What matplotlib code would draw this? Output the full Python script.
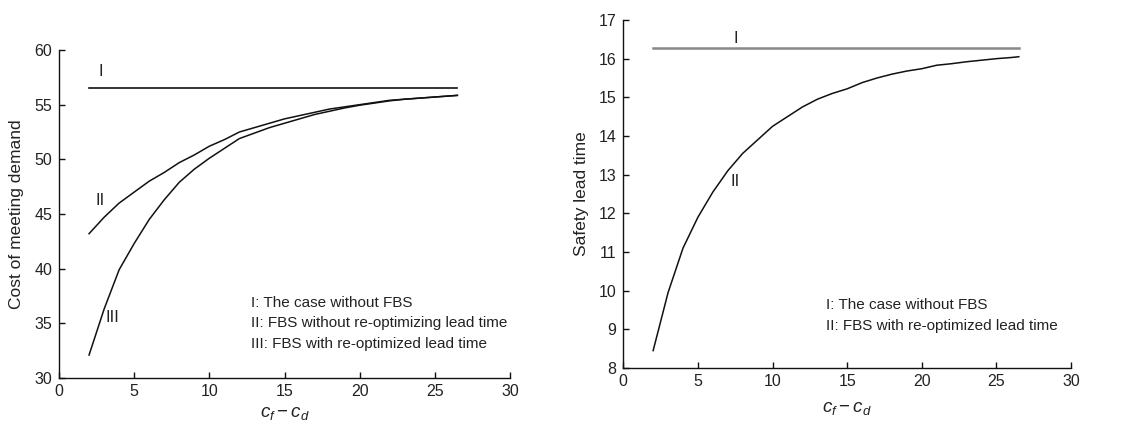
import matplotlib
matplotlib.use("Agg")
import matplotlib.pyplot as plt

plt.rcParams['font.family'] = ['Liberation Sans', 'DejaVu Sans']
plt.rcParams['mathtext.fontset'] = 'custom'
plt.rcParams['mathtext.it'] = 'Liberation Sans:italic'
plt.rcParams['mathtext.rm'] = 'Liberation Sans'

# Left chart data
x = [2, 3, 4, 5, 6, 7, 8, 9, 10, 11, 12, 13, 14, 15, 16, 17, 18, 19, 20,
     21, 22, 23, 24, 25, 26, 26.5]
cost_I = 56.5
cost_II = [43.2, 44.7, 46.0, 47.0, 48.0, 48.8, 49.7, 50.4, 51.2, 51.8, 52.5,
           52.9, 53.3, 53.7, 54.0, 54.3, 54.6, 54.8, 55.0, 55.2, 55.4, 55.5,
           55.6, 55.7, 55.8, 55.85]
cost_III = [32.1, 36.3, 39.9, 42.3, 44.5, 46.3, 47.9, 49.1, 50.1, 51.0, 51.9,
            52.4, 52.9, 53.3, 53.7, 54.1, 54.4, 54.7, 54.95, 55.15, 55.35,
            55.5, 55.6, 55.7, 55.8, 55.85]

# Right chart data
slt_I = 16.27
slt_II = [8.45, 9.95, 11.1, 11.9, 12.55, 13.1, 13.55, 13.9, 14.25, 14.5,
          14.75, 14.95, 15.1, 15.22, 15.38, 15.5, 15.6, 15.68, 15.74, 15.83,
          15.87, 15.92, 15.96, 16.0, 16.03, 16.05]

left_legend = ["I: The case without FBS",
               "II: FBS without re-optimizing lead time",
               "III: FBS with re-optimized lead time"]
right_legend = ["I: The case without FBS",
                "II: FBS with re-optimized lead time"]

W, H = 1137, 421
fig = plt.figure(figsize=(W / 100, H / 100), dpi=100)
ax1 = fig.add_axes([59 / W, 1 - 378 / H, (510 - 59) / W, (378 - 50) / H])
ax2 = fig.add_axes([623.3 / W, 1 - 368 / H, (1071 - 623.3) / W, (368 - 20) / H])

tc = '#222222'
for ax in (ax1, ax2):
    for s in ('top', 'right'):
        ax.spines[s].set_visible(False)
    for s in ('left', 'bottom'):
        ax.spines[s].set_linewidth(1.0)
        ax.spines[s].set_color('#111111')
    ax.tick_params(direction='in', length=4.5, width=1, labelsize=11.5,
                   colors='#111111', labelcolor=tc)
    ax.tick_params(axis='y', pad=5)
    ax.tick_params(axis='x', pad=4)
    ax.set_xlim(0, 30)
    ax.set_xticks([0, 5, 10, 15, 20, 25, 30])
    ax.set_xlabel(r'$c_f - c_d$', fontsize=13.5, color=tc)

# Left
ax1.set_ylim(30, 60)
ax1.set_yticks(range(30, 61, 5))
ax1.plot([x[0], x[-1]], [cost_I, cost_I], color='#111111', lw=1.2)
ax1.plot(x, cost_II, color='#111111', lw=1.1)
ax1.plot(x, cost_III, color='#111111', lw=1.1)
ax1.set_ylabel('Cost of meeting demand', fontsize=12.5, color=tc)
ax1.yaxis.set_label_coords(-0.077, 0.5)
ax1.xaxis.set_label_coords(0.5, -0.082)
ax1.text(2.8, 58.0, 'I', fontsize=12, color=tc, ha='center', va='center')
ax1.text(2.75, 46.2, 'II', fontsize=12, color=tc, ha='center', va='center')
ax1.text(3.55, 35.5, 'III', fontsize=12, color=tc, ha='center', va='center')
for i, t in enumerate(left_legend):
    ax1.text(12.8, 36.85 - 1.85 * i, t, fontsize=11, color=tc, ha='left', va='center')

# Right
ax2.set_ylim(8, 17)
ax2.set_yticks(range(8, 18))
ax2.plot([x[0], x[-1]], [slt_I, slt_I], color='#888888', lw=1.8)
ax2.plot(x, slt_II, color='#111111', lw=1.1)
ax2.set_ylabel('Safety lead time', fontsize=12.5, color=tc)
ax2.yaxis.set_label_coords(-0.076, 0.5)
ax2.xaxis.set_label_coords(0.5, -0.093)
ax2.text(7.55, 16.53, 'I', fontsize=12, color=tc, ha='center', va='center')
ax2.text(7.5, 12.82, 'II', fontsize=12, color=tc, ha='center', va='center')
for i, t in enumerate(right_legend):
    ax2.text(13.55, 9.64 - 0.56 * i, t, fontsize=11, color=tc, ha='left', va='center')

fig.savefig('out.png', dpi=100)
